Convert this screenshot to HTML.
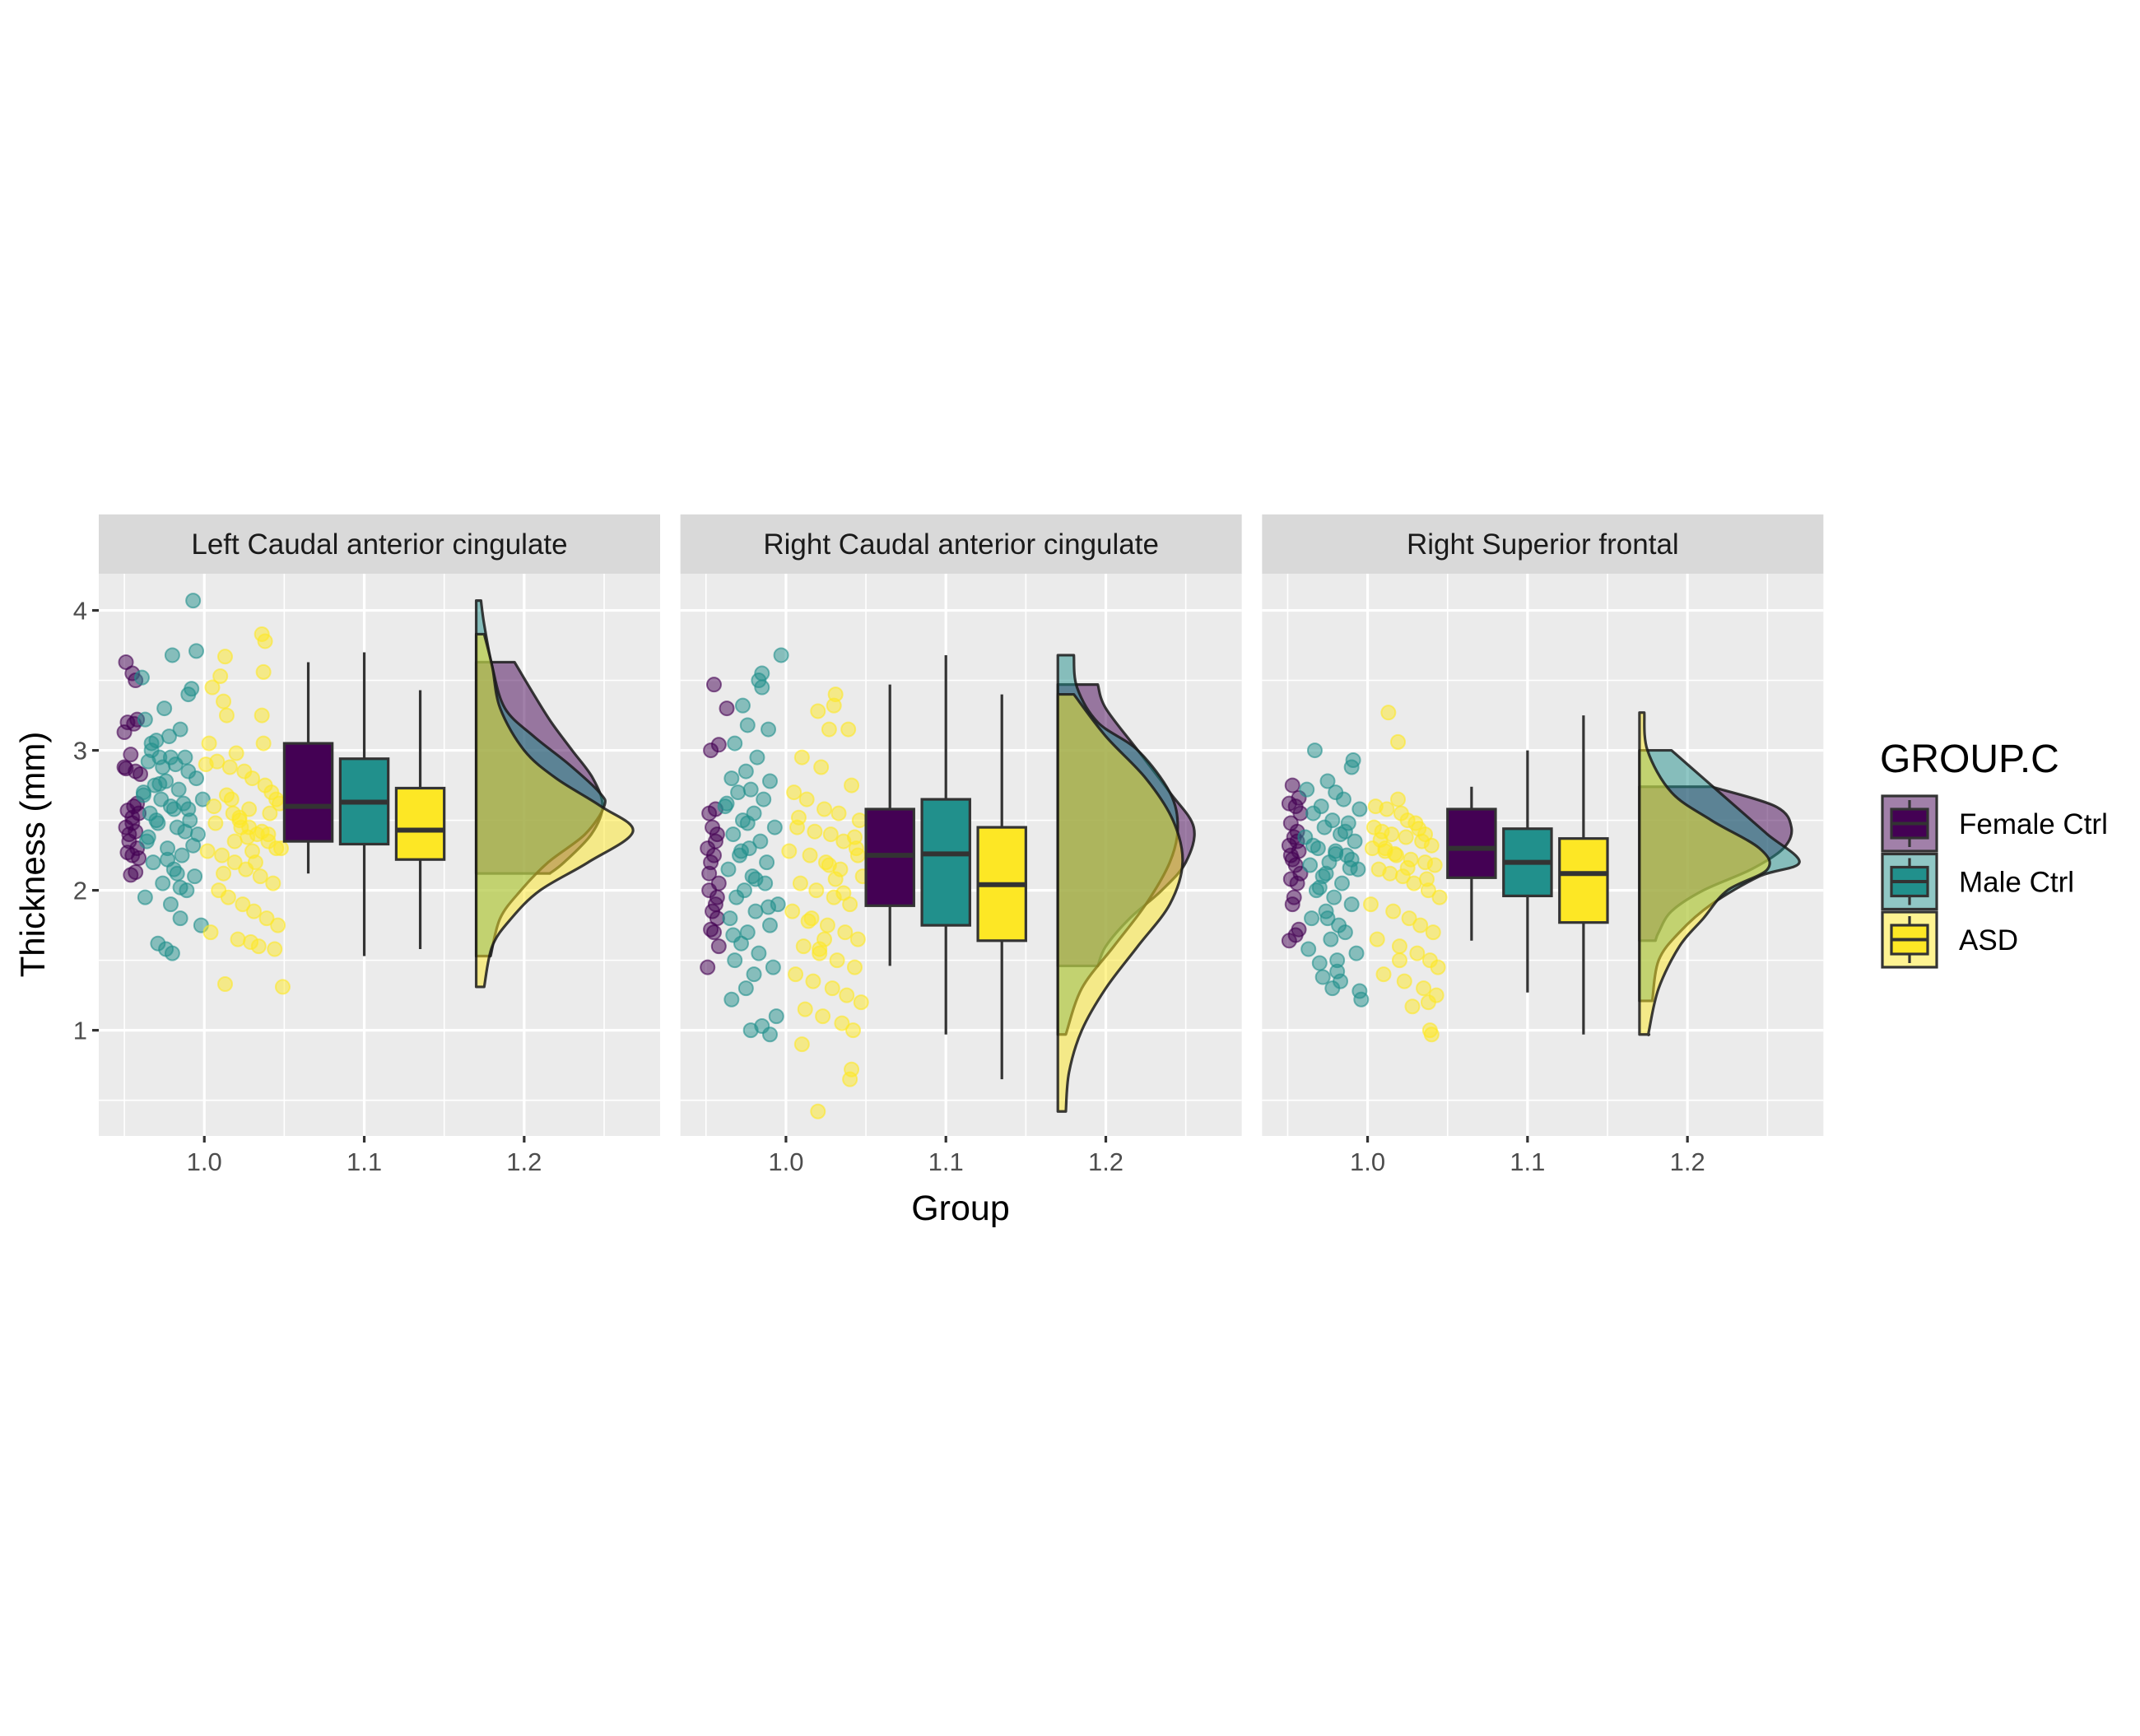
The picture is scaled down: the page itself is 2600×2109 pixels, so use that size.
<!DOCTYPE html>
<html><head><meta charset="utf-8"><style>
html,body{margin:0;padding:0;background:#fff}
svg{display:block;font-family:"Liberation Sans",Arial,sans-serif}
</style></head><body>
<svg id="chart" width="2600" height="2109" viewBox="0 0 2600 2109" xmlns="http://www.w3.org/2000/svg">
<rect width="2600" height="2109" fill="#fff"/>
<g id="panels"></g>
<text x="0" y="0" transform="translate(54,1038) rotate(-90)" text-anchor="middle" font-size="42" fill="#000">Thickness (mm)</text>
<text x="1167" y="1482" text-anchor="middle" font-size="43" fill="#000">Group</text>
<g>
<text x="2284" y="938" font-size="48" fill="#000">GROUP.C</text>
<g id="legend-keys"></g>
</g>
</svg>
<script>
// ---------- data ----------
const groups = ["Female Ctrl","Male Ctrl","ASD"];
const panelTitles = ["Left Caudal anterior cingulate","Right Caudal anterior cingulate","Right Superior frontal"];
const yTicks = [1,2,3,4];
const xTicks = [1.0,1.1,1.2];
const xTickLabels = ["1.0","1.1","1.2"];
const boxCenters = [1.065,1.1,1.135];
// [lowWhisker, q1, median, q3, highWhisker] per panel per group
const boxStatsP1 = [[2.12,2.35,2.6,3.05,3.63],[1.53,2.33,2.63,2.94,3.70],[1.58,2.22,2.43,2.73,3.43]];
const boxStatsP2 = [[1.46,1.89,2.25,2.58,3.47],[0.97,1.75,2.26,2.65,3.68],[0.65,1.64,2.04,2.45,3.40]];
const boxStatsP3 = [[1.64,2.09,2.30,2.58,2.74],[1.27,1.96,2.20,2.44,3.00],[0.97,1.77,2.12,2.37,3.25]];
// density: y values and widths (x units) per group
const densYP1 = [[2.12,2.2,2.4,2.6,2.8,3.0,3.2,3.4,3.63],[1.53,1.8,2.0,2.2,2.4,2.6,2.7,2.9,3.1,3.3,3.6,3.9,4.07],[1.31,1.6,1.8,2.0,2.2,2.42,2.6,2.8,3.0,3.3,3.6,3.83]];
const densWP1 = [[0.046,0.055,0.072,0.079,0.073,0.06,0.047,0.036,0.024],[0.009,0.015,0.028,0.045,0.068,0.08,0.077,0.058,0.036,0.018,0.01,0.005,0.003],[0.005,0.01,0.022,0.04,0.07,0.098,0.078,0.05,0.03,0.015,0.01,0.005]];
const densYP2 = [[1.46,1.6,1.8,2.0,2.2,2.45,2.7,3.0,3.3,3.47],[0.97,1.3,1.6,1.9,2.2,2.45,2.7,3.0,3.2,3.45,3.68],[0.42,0.7,1.0,1.3,1.6,1.9,2.2,2.5,2.8,3.1,3.4]];
const densWP2 = [[0.025,0.03,0.045,0.065,0.08,0.085,0.07,0.05,0.03,0.025],[0.005,0.015,0.035,0.055,0.07,0.075,0.07,0.05,0.025,0.012,0.01],[0.005,0.007,0.015,0.03,0.05,0.07,0.078,0.072,0.055,0.03,0.01]];
const densYP3 = [[1.64,1.7,1.85,2.0,2.15,2.3,2.45,2.6,2.74],[1.21,1.5,1.7,1.9,2.1,2.2,2.4,2.6,2.8,3.0],[0.97,1.0,1.3,1.6,1.8,2.0,2.15,2.3,2.5,2.7,3.0,3.27]];
const densWP3 = [[0.01,0.012,0.02,0.04,0.07,0.09,0.095,0.085,0.045],[0.008,0.012,0.025,0.045,0.075,0.1,0.08,0.06,0.04,0.02],[0.006,0.006,0.012,0.025,0.04,0.055,0.08,0.075,0.045,0.02,0.005,0.003]];
// jittered raw points: x and y per group
const ptsXP1 = [
[0.951,0.957,0.955,0.952,0.958,0.950,0.954,0.951,0.957,0.956,0.952,0.959,0.955,0.951,0.957,0.953,0.958,0.952,0.955,0.957,0.954,0.960,0.958,0.953,0.956,0.950,0.955,0.959],
[0.993,0.980,0.995,0.961,0.975,0.992,0.990,0.963,0.970,0.985,0.978,0.967,0.972,0.988,0.965,0.982,0.990,0.995,0.969,0.976,0.984,0.962,0.973,0.987,0.979,0.966,0.991,0.971,0.983,0.996,0.964,0.977,0.986,0.968,0.981,0.994,0.974,0.989,0.963,0.979,0.985,0.998,0.971,0.980,0.976,0.983,0.999,0.970,0.967,0.974,0.981,0.988,0.993,0.962,0.977,0.985,0.972,0.990,0.965,0.979],
[1.036,1.038,1.013,1.010,1.037,1.005,1.012,1.036,1.014,1.037,1.003,1.020,1.008,1.016,1.025,1.030,1.042,1.045,1.006,1.018,1.022,1.028,1.033,1.040,1.048,1.002,1.011,1.019,1.026,1.035,1.043,1.009,1.015,1.024,1.031,1.039,1.046,1.004,1.021,1.029,1.034,1.044,1.017,1.023,1.027,1.041,1.001,1.047,1.012,1.032,1.038,1.013,1.049,1.007,1.019,1.028,1.036,1.045,1.022,1.030,1.014,1.040]];
const ptsYP1 = [
[3.63,3.50,3.55,3.20,3.22,3.13,2.97,2.87,2.85,2.60,2.57,2.55,2.48,2.45,2.42,2.35,2.30,2.27,2.25,2.13,2.11,2.83,2.62,2.40,3.19,2.88,2.52,2.23],
[4.07,3.68,3.71,3.52,3.30,3.44,3.40,3.22,3.07,3.15,3.10,3.00,2.95,2.95,2.92,2.90,2.85,2.80,2.75,2.78,2.72,2.70,2.65,2.62,2.60,2.55,2.50,2.48,2.45,2.40,2.35,2.30,2.25,2.20,2.15,2.10,2.05,2.00,1.95,1.90,1.80,1.75,1.62,1.55,1.58,2.12,2.65,2.50,3.05,2.88,2.58,2.42,2.32,2.68,2.22,2.02,2.76,2.58,2.38,2.95],
[3.83,3.78,3.67,3.53,3.56,3.45,3.35,3.25,3.25,3.05,3.05,2.98,2.92,2.88,2.85,2.80,2.70,2.65,2.60,2.55,2.50,2.45,2.40,2.35,2.30,2.28,2.25,2.20,2.15,2.10,2.05,2.00,1.95,1.90,1.85,1.80,1.75,1.70,1.65,1.63,1.60,1.58,2.65,2.45,2.38,2.55,2.90,2.62,2.12,2.20,2.75,1.33,1.31,2.48,2.35,2.58,2.42,2.30,2.52,2.28,2.68,2.40]];
const ptsXP2 = [
[0.963,0.955,0.953,0.958,0.956,0.952,0.954,0.957,0.951,0.955,0.953,0.958,0.952,0.956,0.954,0.957,0.953,0.955,0.958,0.951,0.956,0.952,0.957],
[0.997,0.985,0.983,0.985,0.973,0.976,0.989,0.968,0.982,0.975,0.966,0.990,0.978,0.970,0.986,0.962,0.980,0.973,0.993,0.967,0.984,0.977,0.971,0.988,0.964,0.979,0.987,0.974,0.969,0.995,0.981,0.965,0.990,0.976,0.972,0.983,0.968,0.992,0.980,0.975,0.966,0.994,0.985,0.978,0.990,0.963,0.972,0.981,0.989,0.967,0.976],
[1.031,1.030,1.020,1.027,1.039,1.010,1.022,1.041,1.005,1.013,1.024,1.033,1.046,1.007,1.018,1.028,1.036,1.044,1.002,1.015,1.025,1.034,1.048,1.009,1.019,1.030,1.040,1.004,1.016,1.026,1.037,1.045,1.011,1.021,1.032,1.043,1.006,1.017,1.029,1.038,1.047,1.012,1.023,1.035,1.042,1.041,1.040,1.010,1.024,1.045,1.020,1.008,1.027,1.036,1.014,1.043,1.021,1.031]];
const ptsYP2 = [
[3.30,3.47,3.00,3.04,2.58,2.55,2.45,2.40,2.30,2.25,2.20,2.05,2.00,1.90,1.85,1.80,1.72,1.70,1.60,1.45,2.35,2.12,1.95],
[3.68,3.55,3.50,3.45,3.32,3.18,3.15,3.05,2.95,2.85,2.80,2.78,2.72,2.70,2.65,2.60,2.55,2.50,2.45,2.40,2.35,2.30,2.25,2.20,2.15,2.10,2.05,2.00,1.95,1.90,1.85,1.80,1.75,1.70,1.62,1.55,1.50,1.45,1.40,1.30,1.22,1.10,1.03,1.00,0.97,2.62,2.28,2.08,1.88,1.68,2.48],
[3.40,3.32,3.28,3.15,3.15,2.95,2.88,2.75,2.70,2.65,2.58,2.55,2.50,2.45,2.42,2.40,2.35,2.30,2.28,2.25,2.20,2.15,2.10,2.05,2.00,1.95,1.90,1.85,1.80,1.75,1.70,1.65,1.60,1.55,1.50,1.45,1.40,1.35,1.30,1.25,1.20,1.15,1.10,1.05,1.00,0.72,0.65,0.90,1.65,2.25,0.42,2.52,2.18,1.98,1.78,2.38,1.58,2.08]];
const ptsXP3 = [
[0.953,0.957,0.951,0.955,0.958,0.952,0.956,0.954,0.951,0.957,0.953,0.955,0.958,0.952,0.956,0.954,0.953,0.957,0.955,0.951,0.952,0.956],
[0.967,0.991,0.990,0.975,0.962,0.980,0.985,0.971,0.995,0.966,0.978,0.988,0.973,0.983,0.961,0.992,0.969,0.980,0.987,0.976,0.964,0.994,0.972,0.984,0.968,0.979,0.990,0.974,0.965,0.982,0.986,0.977,0.963,0.993,0.970,0.981,0.972,0.983,0.978,0.995,0.981,0.996,0.975,0.990,0.966,0.974,0.986,0.970,0.980,0.989],
[1.013,1.019,1.005,1.012,1.021,1.025,1.030,1.004,1.009,1.015,1.024,1.034,1.040,1.003,1.011,1.018,1.027,1.036,1.042,1.007,1.014,1.022,1.029,1.038,1.045,1.002,1.016,1.026,1.033,1.041,1.006,1.020,1.031,1.039,1.044,1.010,1.023,1.035,1.043,1.038,1.039,1.040,1.020,1.036,1.019,1.028,1.008,1.017,1.025,1.032,1.011,1.037]];
const ptsYP3 = [
[2.75,2.66,2.62,2.60,2.55,2.48,2.42,2.38,2.32,2.28,2.22,2.18,2.12,2.08,2.05,1.95,1.90,1.72,1.68,1.64,2.25,2.35],
[3.00,2.93,2.88,2.78,2.72,2.70,2.65,2.60,2.58,2.55,2.50,2.48,2.45,2.40,2.38,2.35,2.30,2.28,2.25,2.20,2.18,2.15,2.10,2.05,2.00,1.95,1.90,1.85,1.80,1.75,1.70,1.65,1.58,1.55,1.48,1.42,1.38,1.35,1.30,1.28,1.50,1.22,1.80,2.22,2.32,2.12,2.42,2.02,2.26,2.16],
[3.27,3.06,2.60,2.58,2.55,2.50,2.48,2.45,2.42,2.40,2.38,2.35,2.32,2.30,2.28,2.25,2.22,2.20,2.18,2.15,2.12,2.10,2.05,2.00,1.95,1.90,1.85,1.80,1.75,1.70,1.65,1.60,1.55,1.50,1.45,1.40,1.35,1.30,1.25,1.20,1.00,0.97,1.50,2.40,2.65,1.17,2.36,2.26,2.16,2.44,2.30,2.08]];

const boxStats = [boxStatsP1,boxStatsP2,boxStatsP3];
const densY = [densYP1,densYP2,densYP3];
const densW = [densWP1,densWP2,densWP3];
const ptsX = [ptsXP1,ptsXP2,ptsXP3];
const ptsY = [ptsYP1,ptsYP2,ptsYP3];

// ---------- layout ----------
const colors = ["#440154","#21908C","#FDE725"];
const NS = "http://www.w3.org/2000/svg";
const panelW = 682, panelTop = 697, panelBot = 1380, stripTop = 625;
const xMin = 0.934, xMax = 1.285, yTop = 4.262, yBot = 0.245;
const densX0 = 1.17;
function panelLeft(i){ return 120 + i*706.67; }
function sx(i,v){ return panelLeft(i) + (v - xMin)/(xMax - xMin)*panelW; }
function sy(v){ return panelTop + (yTop - v)/(yTop - yBot)*(panelBot - panelTop); }
function mk(tag, attrs, parent){ const e=document.createElementNS(NS,tag); for(const k in attrs) e.setAttribute(k,attrs[k]); parent.appendChild(e); return e; }
function smoothPath(pts){
  let d = '';
  for (let i=0;i<pts.length-1;i++){
    const p0 = pts[Math.max(0,i-1)], p1 = pts[i], p2 = pts[i+1], p3 = pts[Math.min(pts.length-1,i+2)];
    const c1x = p1[0]+(p2[0]-p0[0])/6, c1y = p1[1]+(p2[1]-p0[1])/6;
    const c2x = p2[0]-(p3[0]-p1[0])/6, c2y = p2[1]-(p3[1]-p1[1])/6;
    d += ' C'+c1x+','+c1y+' '+c2x+','+c2y+' '+p2[0]+','+p2[1];
  }
  return d;
}

const root = document.getElementById('panels');
for (let p=0;p<3;p++){
  const L = panelLeft(p);
  const g = mk('g',{},root);
  
  
  const strip = mk('rect',{x:L,y:stripTop,width:panelW,height:panelTop-stripTop,fill:'#d9d9d9'},g);
  
  
  const st = mk('text',{x:L+panelW/2,y:stripTop+48,'text-anchor':'middle','font-size':'35',fill:'#1a1a1a'},g);
  st.textContent = panelTitles[p];
  
  
  const bg = mk('rect',{x:L,y:panelTop,width:panelW,height:panelBot-panelTop,fill:'#ebebeb'},g);
  
  
  [0.95,1.05,1.15,1.25].forEach(v=>mk('line',{x1:sx(p,v),x2:sx(p,v),y1:panelTop,y2:panelBot,stroke:'#fff','stroke-width':1.6},g));
  [0.5,1.5,2.5,3.5].forEach(v=>mk('line',{x1:L,x2:L+panelW,y1:sy(v),y2:sy(v),stroke:'#fff','stroke-width':1.6},g));
  xTicks.forEach(v=>mk('line',{x1:sx(p,v),x2:sx(p,v),y1:panelTop,y2:panelBot,stroke:'#fff','stroke-width':3.2},g));
  yTicks.forEach(v=>mk('line',{x1:L,x2:L+panelW,y1:sy(v),y2:sy(v),stroke:'#fff','stroke-width':3.2},g));
  xTicks.forEach((v,k)=>{
    const t = mk('line',{x1:sx(p,v),x2:sx(p,v),y1:panelBot,y2:panelBot+8,stroke:'#333','stroke-width':3.2},g);
    
    
    const tl = mk('text',{x:sx(p,v),y:panelBot+42,'text-anchor':'middle','font-size':'31',fill:'#4d4d4d'},g);
    tl.textContent = xTickLabels[k];
    
    
  });
  if (p===0){
    yTicks.forEach(v=>{
      const t = mk('line',{x1:L-8,x2:L,y1:sy(v),y2:sy(v),stroke:'#333','stroke-width':3.2},g);
      
      
      const tl = mk('text',{x:L-14,y:sy(v)+11,'text-anchor':'end','font-size':'31',fill:'#4d4d4d'},g);
      tl.textContent = String(v);
      
      
    });
  }
  for (let gi=0; gi<3; gi++){
    const xs = ptsX[p][gi], ys = ptsY[p][gi];
    for (let k=0;k<ys.length;k++){
      const c = mk('circle',{cx:sx(p,xs[k]),cy:sy(ys[k]),r:8.5,fill:colors[gi],'fill-opacity':0.5,stroke:colors[gi],'stroke-opacity':0.6,'stroke-width':2},g);
      
      
    }
  }
  for (let gi=0; gi<3; gi++){
    const s = boxStats[p][gi], cx = boxCenters[gi];
    const x0 = sx(p,cx-0.015), x1 = sx(p,cx+0.015), xc = sx(p,cx);
    const bg2 = mk('g',{},g);
    
    
    mk('line',{x1:xc,x2:xc,y1:sy(s[0]),y2:sy(s[1]),stroke:'#333','stroke-width':3.2},bg2);
    mk('line',{x1:xc,x2:xc,y1:sy(s[3]),y2:sy(s[4]),stroke:'#333','stroke-width':3.2},bg2);
    mk('rect',{x:x0,y:sy(s[3]),width:x1-x0,height:sy(s[1])-sy(s[3]),fill:colors[gi],stroke:'#333','stroke-width':3.2},bg2);
    mk('line',{x1:x0,x2:x1,y1:sy(s[2]),y2:sy(s[2]),stroke:'#333','stroke-width':6},bg2);
  }
  for (let gi=0; gi<3; gi++){
    const ys = densY[p][gi], ws = densW[p][gi];
    const pts = ys.map((y,k)=>[sx(p,densX0+ws[k]), sy(y)]);
    let d = 'M'+sx(p,densX0)+','+sy(ys[0])+' L'+pts[0][0]+','+pts[0][1];
    d += smoothPath(pts);
    d += ' L'+sx(p,densX0)+','+sy(ys[ys.length-1])+' Z';
    const path = mk('path',{d:d,fill:colors[gi],'fill-opacity':0.5,stroke:'#1a1a1a','stroke-opacity':0.85,'stroke-width':3.2,'stroke-linejoin':'round'},g);
    
    
  }
}
const lk = document.getElementById('legend-keys');
for (let gi=0; gi<3; gi++){
  const y0 = 967 + gi*70.5;
  const kg = mk('g',{},lk);
  
  
  mk('rect',{x:2287,y:y0,width:66,height:67,fill:colors[gi],'fill-opacity':0.5,stroke:'#333','stroke-width':3.2},kg);
  mk('line',{x1:2320,x2:2320,y1:y0+5,y2:y0+62,stroke:'#333','stroke-width':3.2},kg);
  mk('rect',{x:2298,y:y0+16,width:44,height:35,fill:colors[gi],stroke:'#333','stroke-width':3.2},kg);
  mk('line',{x1:2298,x2:2342,y1:y0+33.5,y2:y0+33.5,stroke:'#333','stroke-width':4},kg);
  const t = mk('text',{x:2380,y:y0+46,'font-size':'35',fill:'#000'},kg);
  t.textContent = groups[gi];
  
  
}
</script>
</body></html>
